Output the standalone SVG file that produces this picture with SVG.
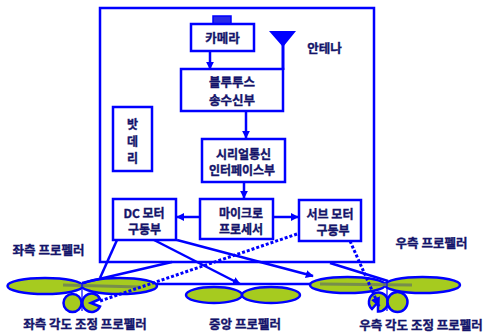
<svg xmlns="http://www.w3.org/2000/svg" width="488" height="335" viewBox="0 0 488 335">
  <defs>
    <marker id="ah" viewBox="0 0 10 10" refX="9" refY="5" markerWidth="3.2" markerHeight="3.2" orient="auto" markerUnits="strokeWidth">
      <path d="M0,0 L10,5 L0,10 z" fill="#0000ff"/>
    </marker>
    <style>
      .box { fill: #ffffff; stroke: #0000ff; stroke-width: 2.5; }
      .ln { fill: none; stroke: #0000ff; stroke-width: 2.5; }
      .dot { fill: none; stroke: #0000ff; stroke-width: 3; stroke-dasharray: 3 2; }
      .blade { fill: #a6cb1f; stroke: #0000ff; stroke-width: 2.5; }
      .strip { fill: none; stroke: #6f8455; stroke-width: 3; opacity: 0.85; }
      .t { font-family: "Noto Sans CJK KR", "Noto Sans", sans-serif; font-weight: bold; font-size: 12.5px; fill: #14146a; stroke: #14146a; stroke-width: 0.35; text-anchor: middle; }
      .s { font-size: 12px; }
    </style>
  </defs>

  <!-- body frame -->
  <g id="body">
    <rect class="box" x="100" y="8" width="274" height="254" fill="none"/>
  </g>

  <!-- connectors -->
  <g id="connectors">
    <line class="ln" x1="210" y1="51" x2="210" y2="69" marker-end="url(#ah)"/>
    <line class="ln" x1="246" y1="111" x2="246" y2="138" marker-end="url(#ah)"/>
    <line class="ln" x1="244" y1="182" x2="244" y2="198" marker-end="url(#ah)"/>
    <line class="ln" x1="200" y1="217" x2="177" y2="217" marker-end="url(#ah)"/>
    <line class="ln" x1="273" y1="217" x2="298" y2="217" marker-end="url(#ah)"/>
    <!-- lower frame line between the outer propellers -->
    <line class="ln" x1="150" y1="284" x2="318" y2="284"/>
    <!-- DC motor drive to the propellers -->
    <line class="ln" x1="154" y1="240" x2="240" y2="284" marker-end="url(#ah)"/>
    <line class="ln" x1="177" y1="240" x2="313" y2="276" marker-end="url(#ah)"/>
  </g>

  <!-- camera -->
  <g id="camera">
    <rect x="213" y="16" width="18" height="8" fill="#2a2ae6" stroke="#0000ff" stroke-width="1.5"/>
    <rect class="box" x="191" y="24" width="63" height="27"/>
    <text class="t" x="222.5" y="43">카메라</text>
  </g>

  <!-- antenna -->
  <g id="antenna">
    <path d="M269,31 L296,31 L283,47 z" fill="#0000ff"/>
    <line x1="283" y1="44" x2="283" y2="70" stroke="#0000ff" stroke-width="3"/>
    <text class="t" x="324.5" y="52.5">안테나</text>
  </g>

  <!-- bluetooth transceiver -->
  <g id="bluetooth">
    <rect class="box" x="181" y="69" width="102" height="42"/>
    <text class="t" x="232" y="86.5">블루투스<tspan x="232" dy="18">송수신부</tspan></text>
  </g>

  <!-- battery -->
  <g id="battery">
    <rect class="box" x="113" y="107" width="39" height="64"/>
    <text class="t s" x="132.5" y="129">밧<tspan x="132.5" dy="17">데</tspan><tspan x="132.5" dy="17">리</tspan></text>
  </g>

  <!-- serial interface -->
  <g id="serial">
    <rect class="box" x="202" y="139" width="83" height="43"/>
    <text class="t s" x="243.5" y="158.5">시리얼통신<tspan x="242" dy="16">인터페이스부</tspan></text>
  </g>

  <!-- micro processor -->
  <g id="mcu">
    <rect class="box" x="200" y="199" width="73" height="40"/>
    <text class="t s" x="241" y="218">마이크로<tspan x="241" dy="16">프로세서</tspan></text>
  </g>

  <!-- DC motor driver -->
  <g id="dc-driver">
    <rect class="box" x="113" y="199" width="63" height="41"/>
    <text class="t s" x="144" y="218">DC 모터<tspan x="144.5" dy="16">구동부</tspan></text>
  </g>

  <!-- servo motor driver -->
  <g id="servo-driver">
    <rect class="box" x="299" y="200" width="62" height="41"/>
    <text class="t s" x="330" y="218.5">서브 모터<tspan x="333" dy="16">구동부</tspan></text>
  </g>

  <!-- left propeller -->
  <g id="left-propeller">
    <ellipse class="blade" cx="45" cy="286" rx="37.5" ry="8"/>
    <ellipse class="blade" cx="119.5" cy="286" rx="37.5" ry="8"/>
    <line class="strip" x1="63" y1="285" x2="140" y2="287"/>
    <circle class="blade" cx="72.5" cy="303" r="9"/>
    <path class="blade" d="M91,303 L100,306.5 A9.2,9.2 0 1 1 100,299 z"/>
    <line x1="82" y1="283" x2="82" y2="311" stroke="#0000ff" stroke-width="1.2"/>
    <line class="ln" x1="82" y1="283" x2="172" y2="262"/>
    <line class="ln" x1="117" y1="240" x2="100" y2="278"/>
    <text class="t" x="48.5" y="255">좌측 프로펠러</text>
  </g>

  <!-- center propeller -->
  <g id="center-propeller">
    <ellipse class="blade" cx="214" cy="295" rx="28" ry="8"/>
    <ellipse class="blade" cx="271" cy="295" rx="29" ry="8"/>
    <text class="t" x="245" y="329">중앙 프로펠러</text>
  </g>

  <!-- right propeller -->
  <g id="right-propeller">
    <ellipse class="blade" cx="347.5" cy="285" rx="37.5" ry="8"/>
    <ellipse class="blade" cx="422.5" cy="285" rx="37.5" ry="8"/>
    <line class="strip" x1="320" y1="284" x2="412" y2="285"/>
    <path class="blade" d="M378,302 L372,309 A9.5,9.5 0 1 1 378,311.5 z"/>
    <circle class="blade" cx="397.5" cy="302" r="10"/>
    <line x1="387" y1="282" x2="387" y2="311" stroke="#0000ff" stroke-width="1.2"/>
    <line class="ln" x1="330" y1="263" x2="388" y2="281"/>
    <text class="t" x="431.5" y="248">우측 프로펠러</text>
  </g>

  <!-- tilt control links from the servo driver -->
  <g id="tilt-links">
    <line class="dot" x1="297" y1="234" x2="100" y2="301"/>
    <line class="dot" x1="350" y1="241" x2="379" y2="306" marker-end="url(#ah)"/>
  </g>

  <g id="tilt-labels">
    <text class="t" x="85" y="329">좌측 각도 조정 프로펠러</text>
    <text class="t" x="421" y="330">우측 각도 조정 프로펠러</text>
  </g>
</svg>
